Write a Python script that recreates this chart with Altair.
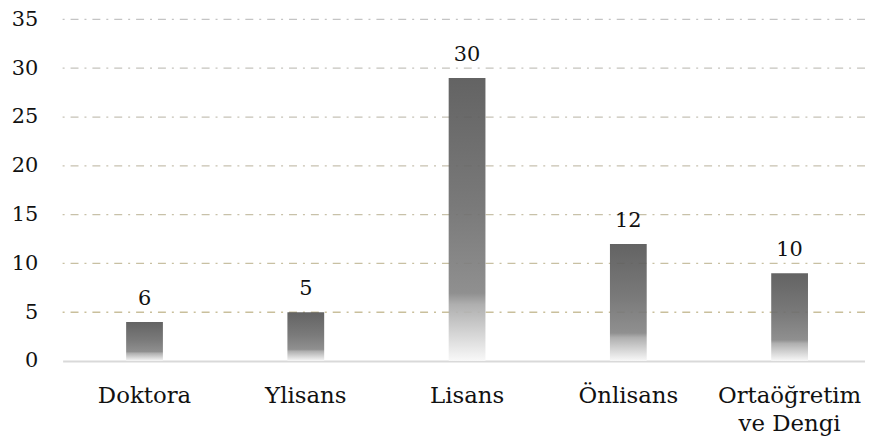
import altair as alt
import pandas as pd

# ---- data ----
CATEGORIES = ["Doktora", "Ylisans", "Lisans", "Önlisans", "Ortaöğretim ve Dengi"]
BAR_VALUES = [4, 5, 29, 12, 9]          # drawn bar heights
BAR_LABELS = ["6", "5", "30", "12", "10"]  # printed labels above bars
Y_TICKS = [0, 5, 10, 15, 20, 25, 30, 35]

df = pd.DataFrame({"cat": CATEGORIES, "value": BAR_VALUES, "label": BAR_LABELS})
grid_df = pd.DataFrame({"tick": Y_TICKS[1:]})

FONT = "DejaVu Serif, DejaVu Sans"
W, H = 808, 344

y_scale = alt.Scale(domain=[Y_TICKS[0], Y_TICKS[-1]], nice=False, zero=True)
x_scale = alt.Scale(paddingInner=0.772, paddingOuter=0.3737, align=0.527)

gradient = {
    "gradient": "linear",
    "x1": 0, "y1": 0, "x2": 0, "y2": 1,
    "stops": [
        {"offset": 0.0, "color": "#565656"},
        {"offset": 0.45, "color": "#6e6e6e"},
        {"offset": 0.76, "color": "#868686"},
        {"offset": 0.80, "color": "#a8a8a8"},
        {"offset": 1.0, "color": "#f8f8f8"},
    ],
}

multi = "datum.label == '%s' ? ['Ortaöğretim', 've Dengi'] : datum.label" % CATEGORIES[4]

y_axis = alt.Axis(
    title=None,
    values=Y_TICKS,
    grid=False,
    domain=False,
    ticks=False,
    tickSize=0,
    labelPadding=25,
    labelFontSize=21,
    labelFont=FONT,
    labelColor="#111111",
)

x_enc = alt.X(
    "cat:N",
    sort=CATEGORIES,
    scale=x_scale,
    axis=alt.Axis(
        title=None,
        labelAngle=0,
        domain=True,
        domainColor="#d9d9d9",
        domainWidth=2,
        ticks=False,
        tickSize=0,
        grid=False,
        labelPadding=24,
        labelFontSize=23,
        labelFont=FONT,
        labelColor="#111111",
        labelLimit=0,
        labelLineHeight=28,
        labelExpr=multi,
    ),
)

grid = alt.Chart(grid_df).mark_rule(strokeDash=[8, 6, 2, 6], strokeWidth=1.3).encode(
    y=alt.Y("tick:Q", scale=y_scale, axis=y_axis),
    color=alt.Color(
        "tick:Q",
        scale=alt.Scale(domain=[5, 35], range=["#c9bf9b", "#c4c4c4"]),
        legend=None,
    ),
)

bars = alt.Chart(df).mark_bar(color=gradient, fillOpacity=0.92).encode(
    x=x_enc,
    y=alt.Y("value:Q", scale=y_scale, axis=y_axis),
)

texts = alt.Chart(df).mark_text(
    baseline="alphabetic", dy=-17, fontSize=21, font=FONT, color="#111111"
).encode(
    x=alt.X("cat:N", sort=CATEGORIES, scale=x_scale),
    y=alt.Y("value:Q", scale=y_scale),
    text="label:N",
)

chart = (
    alt.layer(grid, bars, texts)
    .properties(
        width=W,
        height=H,
        autosize=alt.AutoSizeParams(type="none"),
        padding={"left": 55, "top": 10, "right": 0, "bottom": 76},
        background="white",
    )
    .configure(font=FONT)
    .configure_view(stroke=None)
)

chart.save("out.html", embed_options={"renderer": "svg", "actions": False})
